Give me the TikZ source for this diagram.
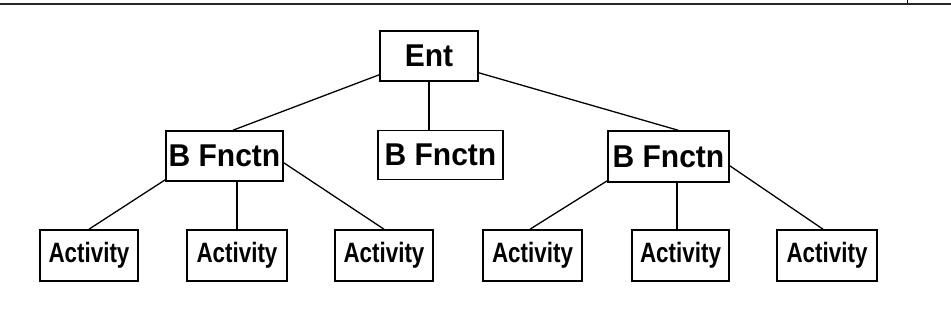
\documentclass[tikz,border=0pt]{standalone}
\usepackage{fontspec}
\setmainfont{Liberation Sans}
\begin{document}
\begin{tikzpicture}[x=1pt,y=-1pt,
  box/.style={draw, line width=1.6pt, fill=white, inner sep=0pt, font=\fontsize{30}{32}\selectfont\bfseries},
  actbox/.style={box, minimum width=98pt, minimum height=51pt, font=\fontsize{28}{30}\selectfont\bfseries},
  link/.style={line width=1.3pt}]
  \useasboundingbox (0,0) rectangle (951,324);
  % header rule with its small tick
  \draw[line width=0.8pt, line cap=butt] (907.5,0) -- (907.5,3);
  \draw[line width=2.4pt, black!85] (0,4) -- (951,4);

  % tree nodes
  \node[box, minimum width=98pt, minimum height=50pt] (ent) at (429,56) {\scalebox{1}[1.05]{Ent}};
  \node[box, minimum width=117pt, minimum height=50pt] (bl) at (224.5,156) {\scalebox{1}[1.05]{B Fnctn}};
  \node[box, minimum width=125pt, minimum height=49pt] (bm) at (440.5,155) {\scalebox{1}[1.05]{B Fnctn}};
  \node[box, minimum width=121pt, minimum height=51pt] (br) at (668.5,156.5) {\scalebox{1}[1.05]{B Fnctn}};

  \node[actbox] (a1) at (89,255.5) {\scalebox{0.8}[1]{Activity}};
  \node[actbox, minimum width=100pt] (a2) at (237,255.5) {\scalebox{0.8}[1]{Activity}};
  \node[actbox] (a3) at (384,255.5) {\scalebox{0.8}[1]{Activity}};
  \node[actbox, minimum width=99pt] (a4) at (532.5,255.5) {\scalebox{0.8}[1]{Activity}};
  \node[actbox, minimum width=97pt] (a5) at (680.5,255.5) {\scalebox{0.8}[1]{Activity}};
  \node[actbox, minimum width=100pt] (a6) at (827,255.5) {\scalebox{0.8}[1]{Activity}};

  % connectors
  \draw[link] ([yshift=7pt]ent.south west) -- ([xshift=8.5pt]bl.north);
  \draw[link] (ent.south) -- (ent.south |- bm.north);
  \draw[link] ([yshift=9pt]ent.south east) -- ([xshift=9.5pt]br.north);

  \draw[link] ([yshift=2pt]bl.south west) -- (a1.north);
  \draw[link] (a2.north |- bl.south) -- (a2.north);
  \draw[link] ([yshift=19pt]bl.south east) -- (a3.north);

  \draw[link] ([yshift=2pt]br.south west) -- ([xshift=-2.5pt]a4.north);
  \draw[link] ([xshift=-3.5pt]a5.north |- br.south) -- ([xshift=-3.5pt]a5.north);
  \draw[link] ([yshift=17pt]br.south east) -- ([xshift=-4pt]a6.north);
\end{tikzpicture}
\end{document}
